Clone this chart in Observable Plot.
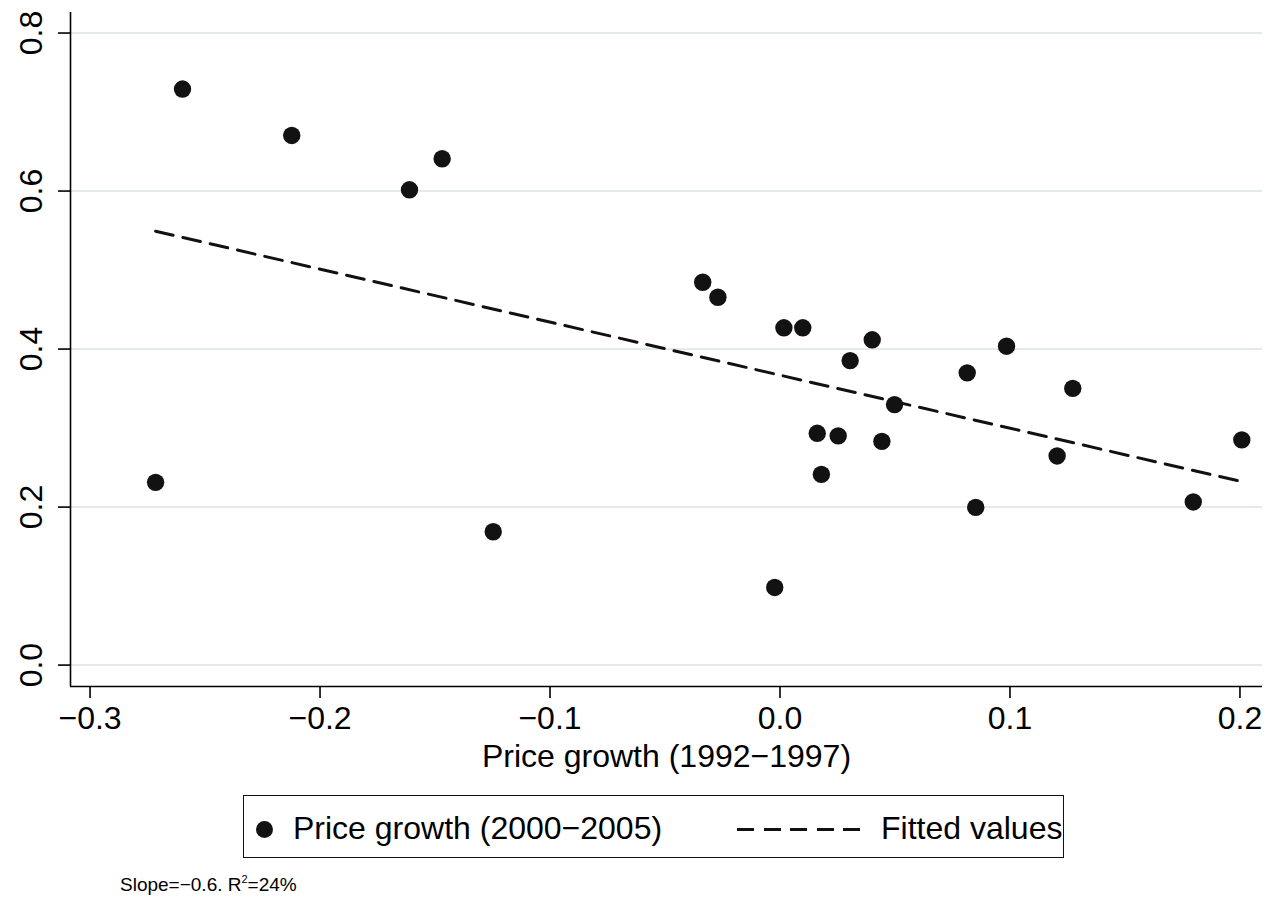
<!DOCTYPE html>
<html>
<head>
<meta charset="utf-8">
<script src="https://cdn.jsdelivr.net/npm/d3@7"></script>
<script src="https://cdn.jsdelivr.net/npm/@observablehq/plot@0.6"></script>
<style>
  body { margin: 0; background: #fff; font-family: "Liberation Sans", Arial, Helvetica, sans-serif; }
  #wrap { position: relative; width: 1267px; height: 902px; overflow: hidden; }
  #chart { position: absolute; left: 0; top: 0; }
  #legend { position: absolute; left: 243px; top: 795px; width: 821px; height: 63px; box-sizing: border-box; border: 1.5px solid #111; }
  .abs { position: absolute; white-space: nowrap; color: #000; }
  .lg-text { font-size: 32px; line-height: 1; }
  .dot { width: 17px; height: 17px; border-radius: 50%; background: #121212; }
  .dash { height: 3px; background: #111; width: 17px; }
  #caption { font-size: 19px; line-height: 1; }
  #caption sup { font-size: 11px; vertical-align: 0.75em; }
</style>
</head>
<body>
<div id="wrap">
  <div id="chart"></div>
  <div id="legend"></div>
  <div id="caption" class="abs"></div>
</div>
<script>
// ---- data ----
const growth9297 = [-0.2598, -0.2715, -0.2123, -0.1611, -0.1469, -0.1247, -0.0336, -0.0270, -0.0023, 0.0017, 0.0099, 0.0162, 0.0180, 0.0253, 0.0305, 0.0401, 0.0443, 0.0498, 0.0814, 0.0851, 0.0985, 0.1205, 0.1273, 0.1797, 0.2008];
const growth0005 = [0.7291, 0.2313, 0.6704, 0.6016, 0.6409, 0.1688, 0.4846, 0.4656, 0.0983, 0.4269, 0.4269, 0.2934, 0.2414, 0.2901, 0.3854, 0.4117, 0.2832, 0.3297, 0.3699, 0.1996, 0.4036, 0.2647, 0.3503, 0.2065, 0.2850];
const fittedX = [-0.2715, 0.2008];
const fittedY = [0.5492, 0.2322];
const xTicks = [-0.3, -0.2, -0.1, 0.0, 0.1, 0.2];
const xTickLabels = ["\u22120.3", "\u22120.2", "\u22120.1", "0.0", "0.1", "0.2"];
const yTicks = [0.0, 0.2, 0.4, 0.6, 0.8];
const yTickLabels = ["0.0", "0.2", "0.4", "0.6", "0.8"];
const xDomain = [-0.3085, 0.2098];
const yDomain = [-0.0271, 0.826];
const xTitle = "Price growth (1992\u22121997)";
const seriesNames = ["Price growth (2000\u22122005)", "Fitted values"];
const captionText = ["Slope=\u22120.6. R", "2", "=24%"];

const points = growth9297.map((x, i) => ({x, y: growth0005[i]}));
const fitted = fittedX.map((x, i) => ({x, y: fittedY[i]}));

const W = 1267, H = 790;
const chart = Plot.plot({
  width: W,
  height: H,
  marginLeft: 70,
  marginRight: 5,
  marginTop: 12,
  marginBottom: H - 686,
  style: { fontFamily: "'Liberation Sans', Arial, Helvetica, sans-serif", background: "#fff", color: "#000" },
  x: { domain: xDomain },
  y: { domain: yDomain },
  marks: [
    Plot.gridY(yTicks, { stroke: "#e3ebee", strokeOpacity: 1, strokeWidth: 2 }),
    Plot.ruleX([xDomain[0]], { stroke: "#000", strokeWidth: 1.6 }),
    Plot.ruleY([yDomain[0]], { stroke: "#000", strokeWidth: 1.6 }),
    Plot.axisX({
      ticks: xTicks, tickSize: 12, tickPadding: 8, strokeWidth: 1.6,
      tickFormat: d => xTickLabels[xTicks.indexOf(d)],
      fontSize: 32, label: null
    }),
    Plot.axisY({
      ticks: yTicks, tickSize: 12, tickPadding: 17, tickRotate: -90, strokeWidth: 1.6,
      tickFormat: d => yTickLabels[yTicks.indexOf(d)],
      fontSize: 32, label: null
    }),
    Plot.text([xTitle], { frameAnchor: "bottom", lineAnchor: "bottom", dy: 80, fontSize: 32, fill: "#000" }),
    Plot.line(fitted, { x: "x", y: "y", stroke: "#111", strokeWidth: 3, strokeDasharray: "18,10" }),
    Plot.dot(points, { x: "x", y: "y", r: 8.7, fill: "#121212", stroke: "none" })
  ]
});
document.getElementById("chart").appendChild(chart);

// ---- legend (HTML, below the SVG) ----
const legend = document.getElementById("legend");
const L = 243, T = 795;
function place(el, x, y) { el.style.left = (x - L) + "px"; el.style.top = (y - T) + "px"; legend.appendChild(el); }
const dot = document.createElement("div"); dot.className = "abs dot"; place(dot, 263 - 8.5, 828 - 8.5);
const t1 = document.createElement("div"); t1.className = "abs lg-text"; t1.textContent = seriesNames[0]; place(t1, 292, 811);
for (let k = 0; k < 5; k++) {
  const d = document.createElement("div"); d.className = "abs dash"; place(d, 736 + k * 26.5, 827);
}
const t2 = document.createElement("div"); t2.className = "abs lg-text"; t2.textContent = seriesNames[1]; place(t2, 880, 811);

// ---- caption ----
const cap = document.getElementById("caption");
cap.innerHTML = "";
cap.append(captionText[0]);
const sup = document.createElement("sup"); sup.textContent = captionText[1]; cap.append(sup);
cap.append(captionText[2]);
cap.style.left = "120px";
cap.style.top = "874px";
</script>
</body>
</html>
